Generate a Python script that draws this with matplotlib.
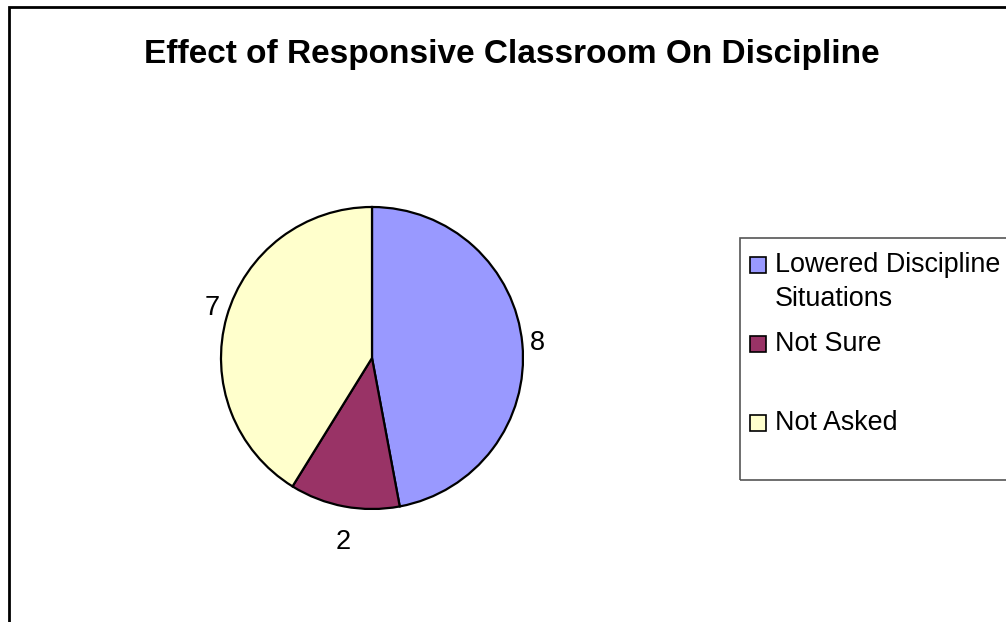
import matplotlib
matplotlib.use("Agg")
import matplotlib.pyplot as plt
from matplotlib.patches import Rectangle

categories = ["Lowered Discipline\nSituations", "Not Sure", "Not Asked"]
values = [8, 2, 7]
colors = ["#9999FF", "#993366", "#FFFFCC"]
title = "Effect of Responsive Classroom On Discipline"

plt.rcParams["font.family"] = ["Liberation Sans", "DejaVu Sans"]

W, H = 1006, 622
fig = plt.figure(figsize=(W / 100, H / 100), dpi=100)

# chart border (runs off right and bottom)
fig.patches.append(Rectangle((9 / W, -0.05), 1.1, 1 - 7 / H + 0.05,
                             transform=fig.transFigure, fill=False,
                             edgecolor="black", linewidth=2, clip_on=False))

fig.text(512 / W, 1 - 54 / H, title, ha="center", va="center",
         fontsize=24, fontweight="bold")

# pie axes: center (372, 358), radius 151 px
r = 151
ax = fig.add_axes([(372 - r) / W, (H - 358 - r) / H, 2 * r / W, 2 * r / H])
wedges, texts = ax.pie(values, colors=colors, startangle=90, counterclock=False,
                       labels=[str(v) for v in values], labeldistance=1.05,
                       wedgeprops=dict(edgecolor="black", linewidth=1.6),
                       textprops=dict(fontsize=19.5))
for t in texts:
    x, y = t.get_position()
    if abs(y) > 0.8:
        # labels at top/bottom are centred under the slice
        t.set_position((x, y * 1.1))
        t.set_ha("center")
        t.set_va("top" if y < 0 else "bottom")
    elif x < 0:
        t.set_position((x, y * 1.15))
ax.set_xlim(-1, 1)
ax.set_ylim(-1, 1)
ax.set_aspect("equal")
ax.axis("off")

# legend box
fig.patches.append(Rectangle((740 / W, 1 - 480 / H), 0.5, (480 - 238) / H,
                             transform=fig.transFigure, fill=False,
                             edgecolor="#555555", linewidth=1.2, clip_on=False))
sq = 16
for i, (lab, c) in enumerate(zip(categories, colors)):
    yc = 265 + i * 79
    fig.patches.append(Rectangle((750 / W, 1 - (yc + sq / 2) / H), sq / W, sq / H,
                                 transform=fig.transFigure, facecolor=c,
                                 edgecolor="black", linewidth=1.2))
    fig.text(775 / W, 1 - (yc - 13) / H, lab, ha="left", va="top",
             fontsize=19.4, linespacing=1.4)

fig.savefig("out.png", dpi=100, facecolor="white")
